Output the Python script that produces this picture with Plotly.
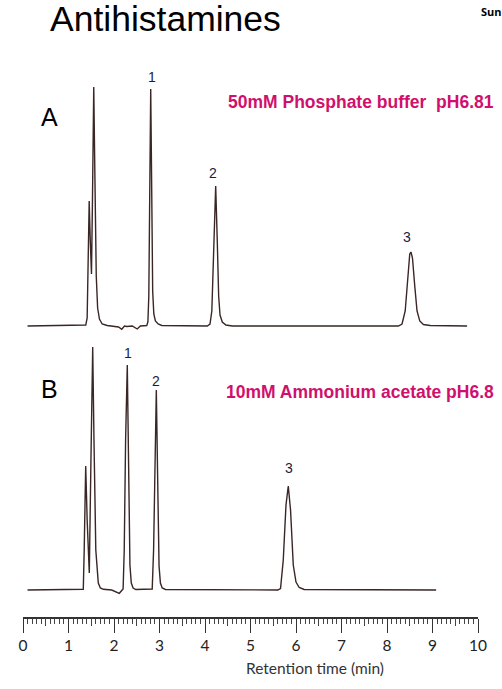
import plotly.graph_objects as go

# Chromatogram A: 50mM phosphate buffer pH6.81 (time in min, detector response)
time_a = [0.10, 1.20, 1.38, 1.41, 1.43, 1.455, 1.475, 1.505, 1.525, 1.555, 1.58, 1.61,
          1.64, 1.68, 1.74, 1.85, 2.10, 2.17, 2.23, 2.28, 2.40, 2.51, 2.58, 2.72,
          2.745, 2.765, 2.785, 2.807, 2.83, 2.85, 2.875, 2.91, 2.97, 3.05,
          4.05, 4.11, 4.15, 4.20, 4.235, 4.27, 4.30, 4.33, 4.38, 4.46, 4.60,
          8.25, 8.33, 8.40, 8.45, 8.50, 8.527, 8.56, 8.61, 8.66, 8.72, 8.80, 8.95, 9.76]
resp_a = [0, 0.5, 1, 8, 60, 125, 90, 52, 120, 239, 150, 50,
          18, 7, 2, 0.5, -1, -3.3, 0, -0.5, 0, -3, 0, 0.5,
          4, 30, 130, 237, 130, 35, 12, 5, 2, 0.5,
          0, 2, 15, 85, 140, 85, 30, 11, 4, 1, 0,
          0, 2, 15, 48, 72, 74, 68, 40, 15, 5, 1.5, 0.5, 0]

# Chromatogram B: 10mM ammonium acetate pH6.8
time_b = [0.10, 1.25, 1.325, 1.345, 1.378, 1.41, 1.457, 1.49, 1.532, 1.56, 1.60, 1.655,
          1.70, 1.765, 1.95, 2.116, 2.17,
          2.20, 2.225, 2.255, 2.292, 2.32, 2.35, 2.38, 2.42, 2.48,
          2.84, 2.87, 2.90, 2.93, 2.96, 2.99, 3.02, 3.06, 3.13,
          5.60, 5.66, 5.72, 5.78, 5.83, 5.88, 5.94, 6.00, 6.07, 6.18, 9.08]
resp_b = [0, 0.5, 0.7, 40, 124, 70, 17, 120, 243, 150, 40, 7,
          2, 0.7, 0, -3.3, 0,
          1, 40, 150, 225, 120, 25, 7, 2, 0.5,
          1, 40, 140, 200, 110, 24, 7, 2, 0.5,
          0, 1.5, 30, 85, 104, 80, 25, 8, 2.5, 0.5, 0]

peak_ids = ["1", "2", "3"]
peak_time_a = [2.835, 4.18, 8.44]
peak_label_a = [249, 153, 89]
peak_time_b = [2.31, 2.92, 5.85]
peak_label_b = [237, 209, 122]

tick_vals = list(range(0, 11))
mid_ticks = [v + 0.5 for v in range(0, 10)]

trace_color = "#3a2626"
pink = "#d10f6c"

fig = go.Figure()
fig.add_trace(go.Scatter(x=time_a, y=resp_a, mode="lines", xaxis="x", yaxis="y",
                         line=dict(color=trace_color, width=1.4), hoverinfo="skip"))
fig.add_trace(go.Scatter(x=time_b, y=resp_b, mode="lines", xaxis="x", yaxis="y2",
                         line=dict(color=trace_color, width=1.4), hoverinfo="skip"))


def note(x, y, text, size, color="black", family="Liberation Sans",
         xref="paper", yref="paper", xanchor="center"):
    fig.add_annotation(x=x, y=y, xref=xref, yref=yref, text=text, showarrow=False,
                       xanchor=xanchor, yanchor="middle",
                       font=dict(family=family, size=size, color=color))


# peak numbers
for pid, t, r in zip(peak_ids, peak_time_a, peak_label_a):
    note(t, r, pid, 14, "#1c1c3a", xref="x", yref="y")
for pid, t, r in zip(peak_ids, peak_time_b, peak_label_b):
    note(t, r, pid, 14, "#1c1c3a", xref="x", yref="y2")

# text
note(0.055, 0.969, "Antihistamines", 35.5, xanchor="left")
note(1.003, 0.981, "<b>Sun</b>", 11, family="Open Sans", xanchor="left")
note(0.059, 0.810, "A", 25)
note(0.059, 0.3695, "B", 25)
note(0.446, 0.835, "<b>50mM Phosphate buffer\u00a0 pH6.81</b>", 17.5, pink, xanchor="left")
note(0.442, 0.365, "<b>10mM Ammonium acetate pH6.8</b>", 17.5, pink, xanchor="left")
note(0.641, -0.083, "Retention time (min)", 15.5, "#333333", family="Lato")

fig.update_layout(
    width=502, height=689,
    margin=dict(l=23, r=24, t=0, b=72),
    paper_bgcolor="white", plot_bgcolor="white",
    showlegend=False,
    xaxis=dict(range=[0, 10], anchor="y2", showgrid=False, zeroline=False,
               showline=True, linecolor="#333333", linewidth=1.5,
               ticks="outside", ticklen=14, tickwidth=1.3, tickcolor="#333333",
               tickvals=tick_vals,
               tickfont=dict(family="Lato", size=15.5, color="#222222"),
               minor=dict(ticks="outside", ticklen=5, dtick=0.1, tickwidth=1,
                          tickcolor="#444444", showgrid=False)),
    xaxis3=dict(range=[0, 10], overlaying="x", anchor="free", position=0,
                showgrid=False, zeroline=False, showline=False,
                ticks="outside", ticklen=8, tickwidth=1, tickcolor="#444444",
                tickvals=mid_ticks, showticklabels=False),
    yaxis=dict(domain=[0.45, 1], range=[-13.35, 326], visible=False),
    yaxis2=dict(domain=[0, 0.45], range=[-27, 250.65], visible=False),
)
# invisible trace so the mid-tick axis is drawn
fig.add_trace(go.Scatter(x=[0], y=[0], xaxis="x3", yaxis="y2", mode="markers",
                         marker=dict(opacity=0), hoverinfo="skip"))

fig.write_html("out.html", config={"displayModeBar": False},
               post_script="document.body.style.margin='0';")
